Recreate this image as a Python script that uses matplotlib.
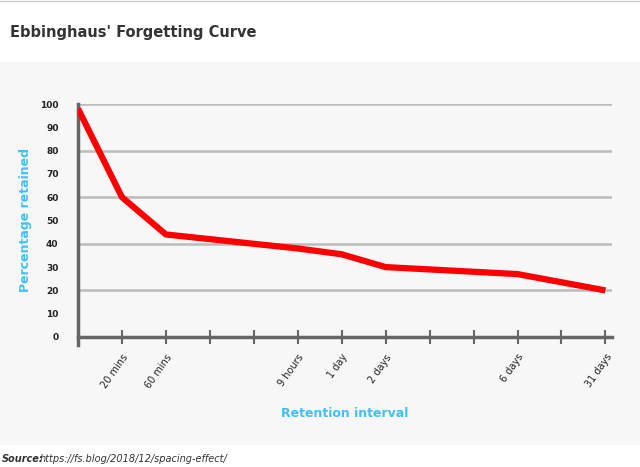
import matplotlib
matplotlib.use("Agg")
import matplotlib.pyplot as plt

x_pos = [0, 1, 2, 5, 6, 7, 10, 12]
retained = [98, 60, 44, 38, 35.5, 30, 27, 20]
tick_pos = list(range(1, 13))
tick_labels = ["20 mins", "60 mins", "", "", "9 hours", "1 day", "2 days", "", "", "6 days", "", "31 days"]

fig = plt.figure(figsize=(6.4, 4.67), dpi=100)
fig.patch.set_facecolor("white")
bg = fig.add_axes([0, (467-445)/467, 1, (445-62)/467], zorder=-1)
bg.set_facecolor("#f7f7f7"); bg.set_xticks([]); bg.set_yticks([])
for s in bg.spines.values(): s.set_visible(False)
fig.add_artist(plt.Line2D([0, 1], [1-1/467, 1-1/467], color="#cccccc", lw=1))

ax = fig.add_axes([78/640, 1-337/467, (612-78)/640, (337-104)/467])
ax.set_facecolor("none")
ax.set_xlim(0, 12.15)
ax.set_ylim(0, 100)
for v in [20, 40, 60, 80, 100]:
    ax.axhline(v, color="#bbbbbb", lw=1.8, zorder=1)
ax.plot(x_pos, retained, color="#ff0000", lw=4.5, zorder=3, solid_capstyle="butt")
ax.set_yticks(range(0, 101, 10))
ax.set_yticklabels([str(v) for v in range(0, 101, 10)], fontsize=6.5, fontweight="bold", color="#222222")
ax.set_xticks(tick_pos)
ax.set_xticklabels(tick_labels, rotation=55, ha="right", rotation_mode="anchor", fontsize=7, color="#222222")
ax.tick_params(axis="y", length=0, pad=14)
ax.tick_params(axis="x", length=10, width=1.5, color="#666666", direction="inout", pad=6)
for s in ["top", "right"]: ax.spines[s].set_visible(False)
ax.spines["left"].set_color("#666666"); ax.spines["left"].set_linewidth(2.5)
ax.spines["bottom"].set_color("#666666"); ax.spines["bottom"].set_linewidth(2.5)
ax.spines["left"].set_bounds(-3.5, 100)
ax.set_ylabel("Percentage retained", color="#42c0f5", fontsize=9, fontweight="bold", labelpad=6)
ax.set_xlabel("Retention interval", color="#42c0f5", fontsize=9, fontweight="bold", labelpad=12)
fig.text(10/640, 1-33/467, "Ebbinghaus' Forgetting Curve", fontsize=10.5, fontweight="bold", color="#333333", va="center")
fig.text(2/640, 1-459/467, "Source:", fontsize=7, fontweight="bold", style="italic", color="#333333", va="center")
fig.text(40/640, 1-459/467, "https://fs.blog/2018/12/spacing-effect/", fontsize=7, style="italic", color="#333333", va="center")
fig.savefig("out.png", dpi=100)
